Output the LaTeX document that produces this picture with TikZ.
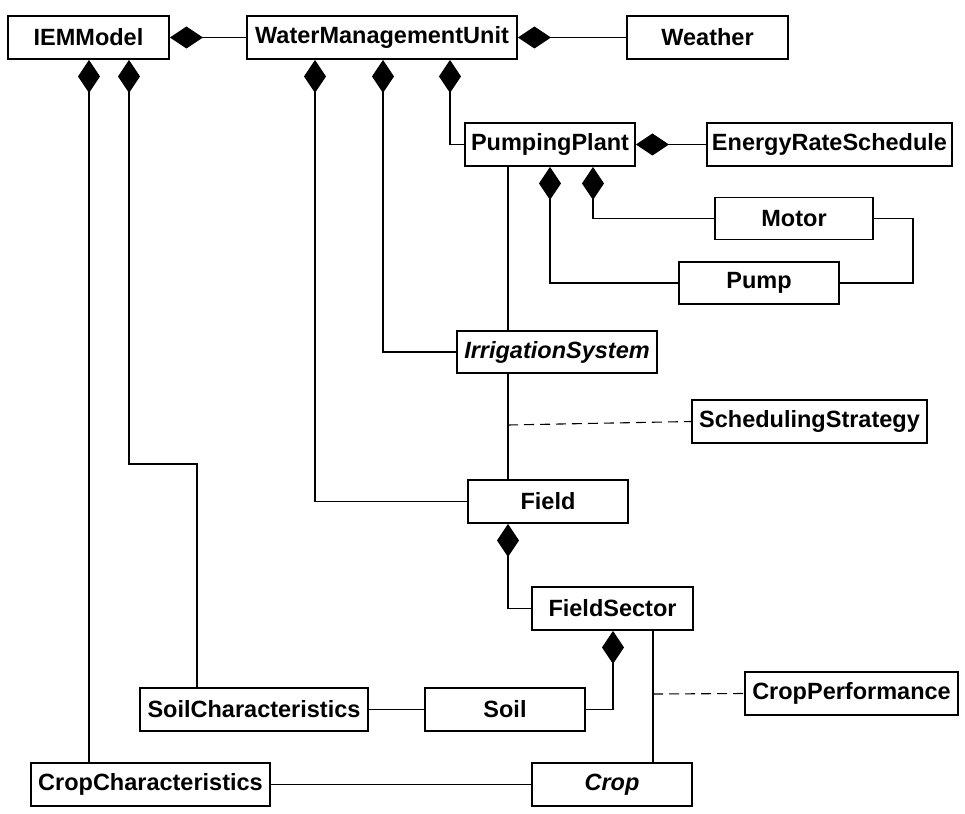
\documentclass[tikz,border=0pt]{standalone}
\usepackage{fontspec}
\setmainfont{Liberation Sans}
\usetikzlibrary{arrows.meta}
\begin{document}
\begin{tikzpicture}[x=1pt,y=-1pt,
  cls/.style={draw,line width=1.8pt,inner sep=0pt,minimum height=43pt,
    font=\fontsize{23.5}{28}\selectfont\bfseries},
  conn/.style={line width=1.1pt},
  comp/.style={conn,{Diamond[length=33pt,width=22pt]}-},
  assoc/.style={conn,dash pattern=on 10pt off 6pt}]
\useasboundingbox (0,0) rectangle (965,813);
% classes
\node[cls,minimum width=161pt] (iem) at (88.5,37.5) {IEMModel};
\node[cls,minimum width=270pt] (wmu) at (382,37.5) {WaterManagementUnit};
\node[cls,minimum width=161pt] (weather) at (707.5,37.5) {Weather};
\node[cls,minimum width=170pt] (pp) at (550,144.5) {PumpingPlant};
\node[cls,minimum width=245pt] (ers) at (829.5,144.5) {EnergyRateSchedule};
\node[cls,minimum width=158pt,minimum height=42pt] (motor) at (794,218.5) {Motor};
\node[cls,minimum width=160pt,minimum height=42pt] (pump) at (759,283) {Pump};
\node[cls,minimum width=200pt,minimum height=42pt] (is) at (557,352) {\itshape IrrigationSystem};
\node[cls,minimum width=235pt] (ss) at (809.5,421.5) {SchedulingStrategy};
\node[cls,minimum width=160pt] (field) at (548,501.5) {Field};
\node[cls,minimum width=161pt] (fs) at (612.5,608.5) {FieldSector};
\node[cls,minimum width=213pt] (cp) at (851.5,693.5) {CropPerformance};
\node[cls,minimum width=228pt] (soilc) at (254,709.5) {SoilCharacteristics};
\node[cls,minimum width=160pt] (soil) at (505,709.5) {Soil};
\node[cls,minimum width=239pt] (cropc) at (150.5,784.5) {CropCharacteristics};
\node[cls,minimum width=160pt] (crop) at (612,784.5) {\itshape Crop};
% compositions
\draw[comp] (iem.east) -- (wmu.west);
\draw[comp] (wmu.east) -- (weather.west);
\draw[comp] (89,0 |- iem.south) -- (89,0 |- cropc.north);
\draw[comp] (129,0 |- iem.south) |- (197,464) -- (197,0 |- soilc.north);
\draw[comp] (315,0 |- wmu.south) |- (field.west);
\draw[comp] (383,0 |- wmu.south) |- (is.west);
\draw[comp] (450,0 |- wmu.south) |- (pp.west);
\draw[comp] (pp.east) -- (ers.west);
\draw[comp] (593,0 |- pp.south) |- (motor.west);
\draw[comp] (550,0 |- pp.south) |- (pump.west);
\draw[comp] (508,0 |- field.south) |- (fs.west);
\draw[comp] (613,0 |- fs.south) |- (soil.east);
% associations
\draw[conn] (motor.east) -- (913,0 |- motor.east) |- (pump.east);
\draw[conn] (508,0 |- pp.south) -- (508,0 |- is.north);
\draw[conn] (508,0 |- is.south) -- (508,0 |- field.north);
\coordinate (isf) at (508,425);
\draw[assoc] (isf) -- (ss.west);
\draw[conn] (soilc.east) -- (soil.west);
\draw[conn] (653,0 |- fs.south) -- (653,0 |- crop.north);
\coordinate (fsc) at (653,694);
\draw[assoc] (fsc) -- (cp.west);
\draw[conn] (cropc.east) -- (crop.west);
\end{tikzpicture}
\end{document}
